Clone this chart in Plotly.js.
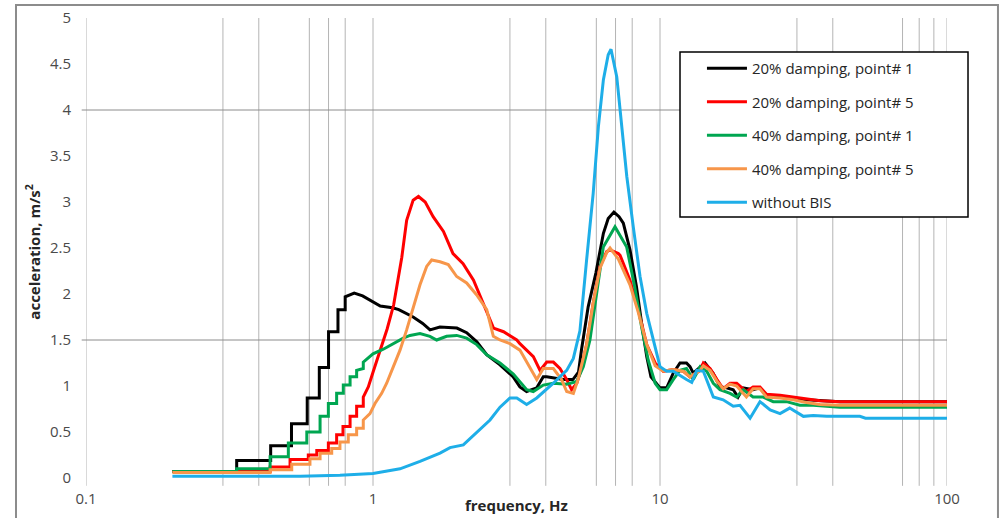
<!DOCTYPE html>
<html>
<head>
<meta charset="utf-8">
<script src="https://cdn.plot.ly/plotly-3.0.1.min.js"></script>
<style>html,body{margin:0;padding:0;background:#fff}#chart{width:1006px;height:518px}</style>
</head>
<body>
<div id="chart"></div>
<script>
// ---- data (frequency in Hz, acceleration in m/s^2) ----
const seriesNames = ["20% damping, point# 1","20% damping, point# 5","40% damping, point# 1","40% damping, point# 5","without BIS"];

const black_f = [0.2,0.335,0.335,0.44,0.44,0.52,0.52,0.59,0.59,0.65,0.65,0.70,0.70,0.755,0.755,0.80,0.80,0.86,0.92,1.0,1.06,1.17,1.23,1.38,1.49,1.58,1.71,1.96,2.12,2.3,2.49,2.77,3.08,3.25,3.43,3.72,3.92,4.03,4.25,4.6,4.97,5.2,5.33,5.62,5.98,6.35,6.6,6.91,7.2,7.45,7.86,8.28,8.63,8.99,9.3,10.0,10.55,11.12,11.74,12.37,12.72,13.06,14.35,15.3,16.2,17.05,18.0,18.7,19.5,21.1,22.3,23.5,26.2,29.1,32.4,36.1,42.4,100];
const black_a = [0.07,0.07,0.19,0.19,0.35,0.35,0.59,0.59,0.87,0.87,1.2,1.2,1.59,1.59,1.83,1.83,1.97,2.01,1.98,1.92,1.87,1.85,1.83,1.75,1.68,1.61,1.64,1.63,1.58,1.48,1.34,1.23,1.10,0.99,0.94,0.98,1.10,1.10,1.09,1.07,1.07,1.15,1.4,1.86,2.23,2.66,2.82,2.89,2.84,2.77,2.48,2.08,1.68,1.32,1.10,0.98,0.98,1.14,1.25,1.25,1.21,1.14,1.25,1.14,0.99,0.98,0.96,0.88,0.98,0.96,0.98,0.90,0.88,0.87,0.85,0.84,0.83,0.83];

const red_f = [0.2,0.438,0.438,0.514,0.514,0.595,0.595,0.637,0.637,0.699,0.699,0.747,0.747,0.786,0.786,0.832,0.832,0.877,0.877,0.925,0.925,0.963,1.0,1.06,1.12,1.18,1.22,1.26,1.31,1.38,1.44,1.52,1.62,1.76,1.9,2.06,2.24,2.42,2.63,2.85,3.17,3.25,3.62,3.82,4.03,4.25,4.48,4.73,4.92,5.13,5.26,5.55,5.85,6.18,6.52,6.7,7.16,7.26,7.86,8.4,8.99,9.62,10.27,11.12,12.06,12.72,13.8,14.16,14.94,15.8,16.6,17.54,18.5,20.0,21.1,22.3,23.5,26.2,29.1,32.4,36.1,42.4,100];
const red_a = [0.07,0.07,0.12,0.12,0.2,0.2,0.25,0.25,0.3,0.3,0.38,0.38,0.47,0.47,0.56,0.56,0.67,0.67,0.78,0.78,0.88,0.99,1.15,1.38,1.62,1.88,2.15,2.4,2.8,3.02,3.06,3.0,2.84,2.68,2.44,2.33,2.15,1.90,1.63,1.59,1.5,1.46,1.32,1.17,1.26,1.26,1.19,1.07,0.96,1.03,1.14,1.45,1.9,2.30,2.46,2.48,2.44,2.42,2.15,1.83,1.45,1.25,1.16,1.18,1.16,1.10,1.17,1.25,1.19,1.07,0.97,1.03,1.03,0.94,0.99,0.99,0.91,0.90,0.88,0.86,0.84,0.83,0.83];

const green_f = [0.2,0.335,0.335,0.438,0.438,0.507,0.507,0.588,0.588,0.654,0.654,0.699,0.699,0.747,0.747,0.788,0.788,0.832,0.832,0.877,0.877,0.925,0.925,1.0,1.086,1.177,1.275,1.346,1.458,1.579,1.667,1.805,1.957,2.12,2.298,2.49,2.77,3.083,3.432,3.618,3.922,4.249,4.73,5.126,5.404,5.70,6.016,6.345,6.97,7.656,8.16,8.63,9.1,9.62,10.0,10.55,11.12,11.74,12.37,13.06,13.8,14.55,15.34,16.18,17.54,18.5,19.5,21.1,22.9,24.8,27.6,30.7,34.2,38.1,42.4,100];
const green_a = [0.07,0.07,0.10,0.10,0.23,0.23,0.38,0.38,0.50,0.50,0.67,0.67,0.81,0.81,0.92,0.92,1.01,1.01,1.10,1.10,1.17,1.19,1.26,1.35,1.40,1.46,1.52,1.55,1.57,1.54,1.50,1.54,1.55,1.52,1.45,1.34,1.25,1.13,0.96,0.94,1.01,1.03,1.02,1.05,1.21,1.5,2.0,2.51,2.73,2.51,2.08,1.64,1.28,1.03,0.96,0.96,1.07,1.17,1.19,1.07,1.21,1.16,1.03,0.96,0.92,0.88,0.96,0.88,0.88,0.83,0.83,0.79,0.79,0.78,0.77,0.77];

const orange_f = [0.2,0.438,0.438,0.521,0.521,0.603,0.603,0.654,0.654,0.718,0.718,0.767,0.767,0.82,0.82,0.877,0.877,0.925,0.925,0.976,1.016,1.072,1.116,1.177,1.242,1.31,1.382,1.458,1.538,1.601,1.712,1.829,1.957,2.12,2.298,2.49,2.626,2.77,3.0,3.25,3.72,3.92,4.25,4.54,4.73,4.99,5.18,5.55,5.85,6.18,6.52,6.7,7.16,7.86,8.4,8.99,9.62,10.27,11.12,12.06,12.72,13.8,14.16,14.94,15.8,16.6,17.54,18.5,20.0,21.1,22.3,23.5,26.2,29.1,32.4,36.1,42.4,100];
const orange_a = [0.06,0.06,0.09,0.09,0.15,0.15,0.21,0.21,0.27,0.27,0.32,0.32,0.39,0.39,0.47,0.47,0.54,0.54,0.63,0.70,0.81,0.92,1.03,1.21,1.39,1.61,1.86,2.10,2.30,2.37,2.35,2.32,2.19,2.12,1.99,1.83,1.54,1.50,1.46,1.39,1.07,1.19,1.19,1.07,0.94,0.92,1.07,1.45,1.9,2.28,2.45,2.5,2.38,2.10,1.80,1.45,1.22,1.16,1.18,1.16,1.10,1.17,1.22,1.17,1.05,0.97,1.02,1.00,0.88,0.97,0.97,0.88,0.87,0.85,0.82,0.80,0.79,0.79];

const blue_f = [0.2,0.557,0.767,1.0,1.242,1.458,1.712,1.855,2.064,2.298,2.557,2.77,3.0,3.17,3.43,3.72,4.03,4.25,4.48,4.73,4.99,5.26,5.55,5.85,6.1,6.35,6.6,6.75,7.07,7.36,7.66,8.07,8.52,8.99,9.48,10.0,10.55,11.12,12.37,12.9,13.43,14.16,15.34,16.6,18.0,19.0,20.6,22.3,24.2,26.2,28.3,31.6,34.2,38.1,49.7,52,100];
const blue_a = [0.02,0.02,0.03,0.05,0.10,0.18,0.27,0.33,0.36,0.49,0.63,0.77,0.87,0.87,0.80,0.87,0.96,1.03,1.10,1.17,1.30,1.60,2.37,3.09,3.82,4.33,4.6,4.66,4.36,3.82,3.28,2.73,2.19,1.79,1.5,1.21,1.16,1.16,1.07,1.04,1.17,1.16,0.88,0.85,0.78,0.79,0.65,0.83,0.74,0.70,0.76,0.67,0.68,0.67,0.67,0.65,0.65];

const xTickVals = [0.1,1,10,100];
const xTickText = ["0.1","1","10","100"];
const yTickVals = [0,0.5,1,1.5,2,2.5,3,3.5,4,4.5,5];
const yTickText = ["0","0.5","1","1.5","2","2.5","3","3.5","4","4.5","5"];
const vGridVals = [0.1,0.3,0.4,0.6,0.7,0.8,1,3,4,6,7,8,10,30,40,70,80,90,100];
const hGridVals = [1.5,4];

// ---- styles ----
const colors = ["#000000","#ff0000","#00a651","#f7964a","#1eaee8"];
const FONT = "Open Sans, Liberation Sans, sans-serif";

const xs = [black_f, red_f, green_f, orange_f, blue_f];
const ys = [black_a, red_a, green_a, orange_a, blue_a];

const traces = xs.map((x, i) => ({
  type: "scatter", mode: "lines",
  x: x, y: ys[i],
  name: seriesNames[i],
  legendgroup: "g" + i,
  line: {color: colors[i], width: 3},
  hoverinfo: "skip"
}));

const shapes = [];
vGridVals.forEach(v => shapes.push({
  type: "line", xref: "x", yref: "paper", x0: v, x1: v, y0: -0.017, y1: 1,
  line: {color: "#b4b4b4", width: 1}, layer: "below"
}));
hGridVals.forEach(v => shapes.push({
  type: "line", xref: "paper", yref: "y", x0: -0.005, x1: 1, y0: v, y1: v,
  line: {color: "#8c8c8c", width: 1}, layer: "below"
}));
// legend frame
shapes.push({type: "rect", xref: "paper", yref: "paper",
  x0: 0.6899, x1: 1.0244, y0: 0.5674, y1: 0.926,
  fillcolor: "#ffffff", line: {color: "#000000", width: 1.5}, layer: "above"});
// outer chart border
shapes.push({type: "rect", xref: "paper", yref: "paper",
  x0: -0.0813, x1: 1.0592, y0: -0.12, y1: 1.0283,
  fillcolor: "rgba(0,0,0,0)", line: {color: "#8c8c8c", width: 2}, layer: "above"});

const layout = {
  width: 1006, height: 518,
  margin: {l: 86, r: 59, t: 18, b: 40},
  paper_bgcolor: "#ffffff", plot_bgcolor: "#ffffff",
  showlegend: true,
  font: {family: FONT, size: 14, color: "#404040"},
  xaxis: {
    type: "log", range: [-1, 2], showgrid: false, zeroline: false,
    showline: false, ticks: "", tickvals: xTickVals, ticktext: xTickText,
    tickfont: {family: FONT, size: 15, color: "#4a4a4a"}, ticklabelstandoff: 10,
    fixedrange: true
  },
  yaxis: {
    range: [0, 5], showgrid: false, zeroline: false, showline: false, ticks: "",
    tickvals: yTickVals, ticktext: yTickText,
    tickfont: {family: FONT, size: 15, color: "#4a4a4a"}, ticklabelstandoff: 14,
    fixedrange: true
  },
  legend: {
    x: 0.7154, xanchor: "left", y: 0.926, yanchor: "top",
    bgcolor: "rgba(0,0,0,0)", borderwidth: 0,
    font: {family: FONT, size: 15, color: "#262626"},
    itemwidth: 40, traceorder: "grouped", tracegroupgap: 11
  },
  shapes: shapes,
  annotations: [
    {text: "<b>frequency, Hz</b>", xref: "paper", yref: "paper", x: 0.5, y: -0.059,
     xanchor: "center", yanchor: "middle", showarrow: false,
     font: {family: FONT, size: 15, color: "#262626"}},
    {text: "<b>acceleration, m/s<sup>2</sup></b>", xref: "paper", yref: "paper", x: -0.0616, y: 0.492,
     xanchor: "center", yanchor: "middle", showarrow: false, textangle: -90,
     font: {family: FONT, size: 15, color: "#262626"}}
  ]
};

Plotly.newPlot("chart", traces, layout, {displayModeBar: false, staticPlot: true});
</script>
</body>
</html>
